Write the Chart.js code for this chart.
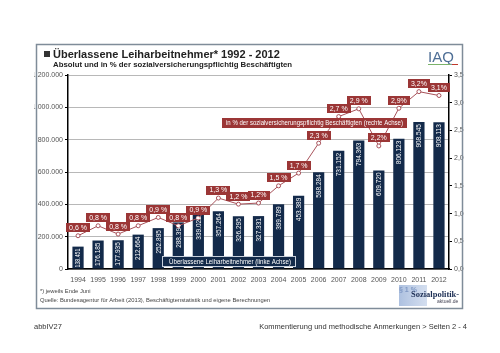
<!DOCTYPE html>
<html>
<head>
<meta charset="utf-8">
<script src="https://cdn.jsdelivr.net/npm/chart.js@4"></script>
<style>
html,body{margin:0;padding:0;background:#fff;}
canvas{display:block;}
</style>
</head>
<body>
<canvas id="c" width="500" height="353" style="width:500px;height:353px"></canvas>
<script>
const years = ['1994','1995','1996','1997','1998','1999','2000','2001','2002','2003','2004','2005','2006','2007','2008','2009','2010','2011','2012'];
const workers = [138451,176185,177935,212664,252895,288394,339022,357264,326295,327331,399789,453389,598284,731152,794363,609720,806123,908545,908113];
const shareValues = [0.6,0.78,0.63,0.78,0.93,0.78,0.92,1.28,1.17,1.19,1.5,1.73,2.27,2.75,2.89,2.22,2.9,3.2,3.13];
const shareLabels = ['0,6 %','0,8 %','0,8 %','0,8 %','0,9 %','0,8 %','0,9 %','1,3 %','1,2 %','1,2%','1,5 %','1,7 %','2,3 %','2,7 %','2,9 %','2,2%','2,9%','3,2%','3,1%'];
const leftTicks = [0,200000,400000,600000,800000,1000000,1200000];
const rightTicks = [0,0.5,1,1.5,2,2.5,3,3.5];

const FONT = "'Liberation Sans', Arial, sans-serif";
const NAVY = '#132a4a';
const RED = '#9b3636';
const LINE = '#a8525a';

function dots(n){ return String(n).replace(/\B(?=(\d{3})+(?!\d))/g,'.'); }

const decor = {
  id:'decor',
  beforeDraw(chart){
    const ctx = chart.ctx;
    ctx.save();
    ctx.fillStyle='#fff';
    ctx.fillRect(0,0,chart.width,chart.height);
    ctx.restore();
  },
  afterDatasetsDraw(chart){
    const ctx = chart.ctx;
    ctx.save();
    // bar value labels
    const bm = chart.getDatasetMeta(0);
    ctx.font = "6.5px " + FONT;
    ctx.fillStyle = '#fff';
    ctx.textBaseline = 'middle';
    ctx.textAlign = 'right';
    bm.data.forEach((el,i)=>{
      ctx.save();
      ctx.translate(el.x, el.y + 2);
      ctx.rotate(-Math.PI/2);
      ctx.fillText(dots(workers[i]), 0, 0.5, Math.max(10, el.base - el.y - 3));
      ctx.restore();
    });
    // line labels
    const lm = chart.getDatasetMeta(1);
    ctx.font = "7px " + FONT;
    ctx.textAlign = 'center';
    ctx.textBaseline = 'middle';
    lm.data.forEach((el,i)=>{
      const t = shareLabels[i];
      const w = ctx.measureText(t).width + 6;
      const cx = el.x, cy = el.y - 8;
      ctx.fillStyle = RED;
      ctx.fillRect(Math.round(cx - w/2), Math.round(cy - 4.5), Math.round(w), 9);
      ctx.fillStyle = '#fff';
      ctx.fillText(t, cx, cy + 0.5);
    });
    // legend box red
    ctx.fillStyle = RED;
    ctx.fillRect(222,118,185,10);
    ctx.fillStyle = '#fff';
    ctx.font = "6.5px " + FONT;
    ctx.textAlign = 'left';
    ctx.fillText('in % der sozialversicherungspflichtig Beschäftigten (rechte Achse)', 226, 123.5, 177);
    // legend box navy
    ctx.fillStyle = NAVY;
    ctx.fillRect(162,256,134,11);
    ctx.strokeStyle = '#c8d0dc';
    ctx.lineWidth = 1;
    ctx.strokeRect(162.5,256.5,133,10);
    ctx.fillStyle = '#fff';
    ctx.fillText('Überlassene Leiharbeitnehmer (linke Achse)', 169, 262, 122);
    ctx.restore();
  },
  afterDraw(chart){
    const ctx = chart.ctx;
    ctx.save();
    // frame
    ctx.strokeStyle = '#7f8c99';
    ctx.lineWidth = 1.5;
    ctx.strokeRect(36.5,44.5,426,264);
    // title
    ctx.fillStyle = '#333';
    ctx.fillRect(44,51,6,6);
    ctx.fillStyle = '#222';
    ctx.textAlign='left';
    ctx.textBaseline='alphabetic';
    ctx.font = "bold 11px " + FONT;
    ctx.fillText('Überlassene Leiharbeitnehmer* 1992 - 2012', 53, 58);
    ctx.font = "bold 7.8px " + FONT;
    ctx.fillText('Absolut und in % der sozialversicherungspflichtig Beschäftigten', 53, 67);
    // IAQ logo
    ctx.font = "15px " + FONT;
    ctx.fillStyle = '#4f6f96';
    ctx.fillText('IAQ', 428, 62);
    ctx.strokeStyle = '#7bb36a';
    ctx.lineWidth = 1;
    ctx.beginPath(); ctx.moveTo(428,64.5); ctx.lineTo(451,64.5); ctx.stroke();
    ctx.strokeStyle = '#c0392b';
    ctx.beginPath(); ctx.moveTo(452,64.5); ctx.lineTo(458,64.5); ctx.stroke();
    // footnotes
    ctx.fillStyle = '#444';
    ctx.font = "5.8px " + FONT;
    ctx.fillText('*) jeweils Ende Juni', 40, 293);
    ctx.fillText('Quelle: Bundesagentur für Arbeit (2013), Beschäftigtenstatistik und eigene Berechnungen', 40, 302);
    // sozialpolitik logo
    const g = ctx.createLinearGradient(398,0,460,0);
    g.addColorStop(0,'rgba(150,175,215,0.8)');
    g.addColorStop(1,'rgba(210,222,240,0.3)');
    ctx.fillStyle = g;
    ctx.fillRect(399,285,28,21);
    ctx.fillStyle = '#7f98c4';
    ctx.font = "bold 7px " + FONT;
    ctx.fillText('§ 1 %', 399, 292);
    ctx.fillStyle = '#1d2f55';
    ctx.font = "bold 8.5px 'Liberation Serif', serif";
    ctx.fillText('Sozialpolitik-', 411, 297);
    ctx.font = "5px " + FONT;
    ctx.fillStyle = '#445';
    ctx.fillText('aktuell.de', 437, 302.5);
    // page footer
    ctx.fillStyle = '#333';
    ctx.font = "7.5px " + FONT;
    ctx.fillText('abbIV27', 34, 329);
    ctx.textAlign = 'right';
    ctx.fillText('Kommentierung und methodische Anmerkungen > Seiten 2 - 4', 467, 329);
    ctx.restore();
  }
};

new Chart(document.getElementById('c'), {
  data: {
    labels: years,
    datasets: [
      { type:'bar', data: workers, yAxisID:'y', backgroundColor: NAVY, barPercentage:0.56, categoryPercentage:1, order:2 },
      { type:'line', data: shareValues, yAxisID:'y1', borderColor: LINE, borderWidth:1, pointRadius:2, pointBackgroundColor:'#fff', pointBorderColor: LINE, pointBorderWidth:1, tension:0, order:1 }
    ]
  },
  options: {
    responsive:false,
    animation:false,
    devicePixelRatio:1,
    layout:{ padding:{ left:34, right:30, top:75, bottom:66 } },
    plugins:{ legend:{display:false}, tooltip:{enabled:false} },
    scales:{
      x:{
        grid:{ display:false, drawTicks:false },
        border:{ display:true, color:'#000', width:1.5 },
        ticks:{ font:{ size:7, family:FONT }, color:'#555', maxRotation:0, autoSkip:false, padding:7 },
        afterFit(s){ s.height = 18; }
      },
      y:{
        position:'left', min:0, max:1200000,
        afterBuildTicks(s){ s.ticks = leftTicks.map(v=>({value:v})); },
        grid:{ color:'#b8b8b8', lineWidth:1, tickLength:3, tickColor:'#000' },
        border:{ display:true, color:'#000', width:1.5 },
        ticks:{ font:{ size:7, family:FONT }, color:'#555', padding:2, callback:v=>dots(v) },
        afterFit(s){ s.width = 34; }
      },
      y1:{
        position:'right', min:0, max:3.5,
        afterBuildTicks(s){ s.ticks = rightTicks.map(v=>({value:v})); },
        grid:{ drawOnChartArea:false, tickLength:3, tickColor:'#000' },
        border:{ display:true, color:'#000', width:1.5 },
        ticks:{ font:{ size:7, family:FONT }, color:'#555', padding:2, callback:v=>v.toFixed(1).replace('.',',') },
        afterFit(s){ s.width = 21; }
      }
    }
  },
  plugins:[decor]
});
</script>
</body>
</html>
